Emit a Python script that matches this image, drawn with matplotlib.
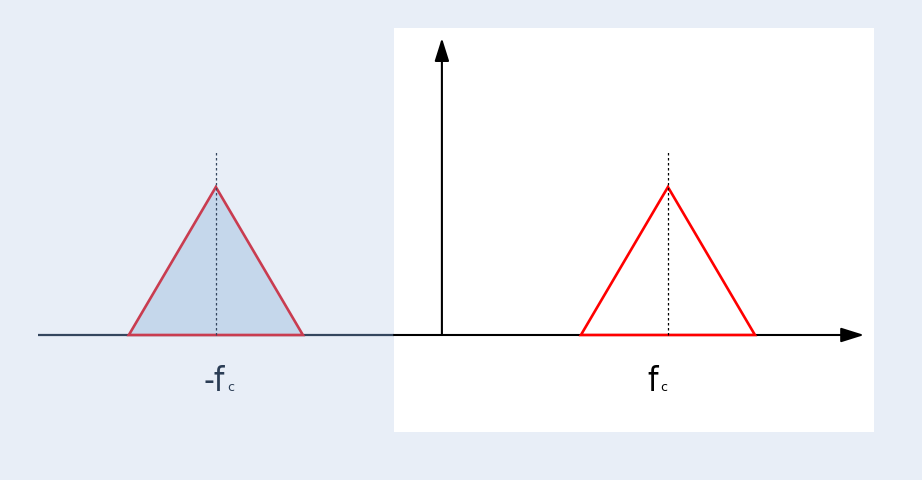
import matplotlib
matplotlib.use("Agg")
import matplotlib.pyplot as plt
from matplotlib.patches import Polygon, Rectangle

# Spectrum data (normalised units)
fc = 1.0            # carrier frequency
half_bw = 0.385     # half bandwidth of the triangular spectrum
peak = 1.0          # peak amplitude
marker_top = 1.25   # top of the dotted centre marker
centers = [-fc, fc]
labels = ["-f", "f"]
sub = "c"

BG = "#e8eef7"
fig = plt.figure(figsize=(9.22, 4.8), dpi=100, facecolor=BG)
ax = fig.add_axes([0, 0, 1, 1])
ax.set_facecolor(BG)
ax.set_xlim(-1.955, 2.124)
ax.set_ylim(-0.980, 2.264)
ax.axis("off")

# white panel (positive-frequency side)
ax.add_patch(Rectangle((-0.212, -0.655), 1.916 + 0.208, 2.074 + 0.655,
                       facecolor="white", edgecolor="none", zorder=0))

# frequency axis
ax.plot([-1.787, -0.212], [0, 0], color="#34465e", lw=1.6, zorder=2, solid_capstyle="butt")
ax.annotate("", xy=(1.868, 0), xytext=(-0.212, 0),
            arrowprops=dict(arrowstyle="-|>,head_length=0.7,head_width=0.22",
                            mutation_scale=20, lw=1.5, color="black",
                            shrinkA=0, shrinkB=0), zorder=2)
# amplitude axis
ax.annotate("", xy=(0, 2.007), xytext=(0, 0),
            arrowprops=dict(arrowstyle="-|>,head_length=0.7,head_width=0.22",
                            mutation_scale=20, lw=1.5, color="black",
                            shrinkA=0, shrinkB=0), zorder=2)

# triangles
styles = [dict(face="#c5d7eb", edge="#c93c50", dot="#34465e", txt="#2b3d55"),
          dict(face="none", edge="#ff0000", dot="black", txt="black")]
label_dx = [0.040, -0.044]
for c, lab, st, dx in zip(centers, labels, styles, label_dx):
    tri = Polygon([(c - half_bw, 0), (c, peak), (c + half_bw, 0)], closed=True,
                  facecolor=st["face"], edgecolor=st["edge"], lw=1.9, zorder=3,
                  joinstyle="miter")
    ax.add_patch(tri)
    ax.plot([c, c], [0, marker_top], color=st["dot"], lw=0.9, ls=(0, (2, 2)), zorder=4)
    ax.text(c + dx, -0.378, lab, ha="right", va="baseline", fontsize=24,
            color=st["txt"], family="DejaVu Sans", fontstretch="condensed")
    ax.annotate(sub, xy=(c + dx, -0.378), xytext=(1.5, 0), textcoords="offset points",
                ha="left", va="baseline", fontsize=9, color=st["txt"],
                family="DejaVu Sans")

fig.savefig("out.png", dpi=100, facecolor=BG)
